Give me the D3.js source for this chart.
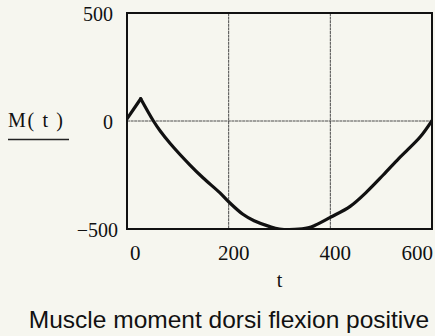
<!DOCTYPE html>
<html>
<head>
<meta charset="utf-8">
<script src="https://cdn.jsdelivr.net/npm/d3@7"></script>
<style>
  html, body { margin: 0; padding: 0; background: #f6f6ef; }
  svg { display: block; }
</style>
</head>
<body>
<svg id="chart" width="435" height="336"></svg>
<script>
// Muscle moment M(t) over the stance phase, dorsi flexion positive
const timeValues = [0, 27, 52, 65, 85, 124, 150, 183, 200, 228, 250, 281, 300, 330, 356, 370, 400, 439, 472, 504, 534, 550, 577, 600];
const momentValues = [10, 103, 0, -45, -104, -204, -264, -333, -374, -432, -462, -489, -500, -502, -495, -483, -446, -395, -327, -250, -175, -138, -73, 2];
const xTicks = [0, 200, 400, 600];
const yTicks = [500, 0, -500];
const yLabel = "M( t )";
const xLabel = "t";
const caption = "Muscle moment dorsi flexion positive";

const svg = d3.select("#chart");
const box = { left: 127, right: 432, top: 13, bottom: 229 };

const x = d3.scaleLinear().domain([0, 600]).range([box.left, box.right]);
const y = d3.scaleLinear().domain([-500, 500]).range([box.bottom, box.top]);

const serif = "'Liberation Serif', 'Times New Roman', serif";

// grid lines at interior ticks
svg.append("g")
  .selectAll("line")
  .data(xTicks.filter(d => d > 0 && d < 600))
  .join("line")
  .attr("x1", d => x(d)).attr("x2", d => x(d))
  .attr("y1", box.top).attr("y2", box.bottom)
  .attr("stroke", "#4a4a4a").attr("stroke-width", 1)
  .attr("stroke-dasharray", "3,0.6");

svg.append("g")
  .selectAll("line")
  .data(yTicks.filter(d => d > -500 && d < 500))
  .join("line")
  .attr("x1", box.left).attr("x2", box.right)
  .attr("y1", d => y(d)).attr("y2", d => y(d))
  .attr("stroke", "#4a4a4a").attr("stroke-width", 1)
  .attr("stroke-dasharray", "3,0.6");

// curve, clipped to the plot box
svg.append("clipPath").attr("id", "plotClip")
  .append("rect")
  .attr("x", box.left).attr("y", box.top)
  .attr("width", box.right - box.left).attr("height", box.bottom - box.top);

const points = timeValues.map((t, i) => [t, momentValues[i]]);
const peakIndex = d3.maxIndex(momentValues);

// sharp rise to the early peak, then a smooth descent and recovery
const riseLine = d3.line().x(d => x(d[0])).y(d => y(d[1])).curve(d3.curveLinear);
const restLine = d3.line().x(d => x(d[0])).y(d => y(d[1])).curve(d3.curveCatmullRom.alpha(0.5));

const curveGroup = svg.append("g").attr("clip-path", "url(#plotClip)");
[riseLine(points.slice(0, peakIndex + 1)), restLine(points.slice(peakIndex))].forEach(dStr => {
  curveGroup.append("path")
    .attr("fill", "none")
    .attr("stroke", "#111")
    .attr("stroke-width", 3.2)
    .attr("stroke-linejoin", "round")
    .attr("stroke-linecap", "round")
    .attr("d", dStr);
});

// plot frame
svg.append("rect")
  .attr("x", box.left).attr("y", box.top)
  .attr("width", box.right - box.left).attr("height", box.bottom - box.top)
  .attr("fill", "none")
  .attr("stroke", "#111")
  .attr("stroke-width", 2);

// y tick labels
svg.append("g")
  .selectAll("text")
  .data(yTicks)
  .join("text")
  .attr("x", d => d < 0 ? box.left - 9 : box.left - 14)
  .attr("y", d => y(d) + 8)
  .attr("text-anchor", "end")
  .attr("font-family", serif)
  .attr("font-size", 20)
  .attr("fill", "#111")
  .text(d => d < 0 ? "\u2212" + Math.abs(d) : d);

// x tick labels
svg.append("g")
  .selectAll("text")
  .data(xTicks)
  .join("text")
  .attr("x", (d, i) => i === 0 ? x(d) + 3 : i === xTicks.length - 1 ? x(d) + 1 : x(d) + 5)
  .attr("y", box.bottom + 31)
  .attr("text-anchor", (d, i) => i === 0 ? "start" : i === xTicks.length - 1 ? "end" : "middle")
  .attr("font-family", serif)
  .attr("font-size", 21)
  .attr("fill", "#111")
  .text(d => d);

// y axis label with underline
svg.append("text")
  .attr("x", 8).attr("y", 127)
  .attr("font-family", serif)
  .attr("font-size", 20)
  .attr("fill", "#111")
  .attr("textLength", 55)
  .attr("lengthAdjust", "spacing")
  .text(yLabel);

svg.append("line")
  .attr("x1", 8).attr("x2", 69)
  .attr("y1", 139.5).attr("y2", 139.5)
  .attr("stroke", "#222").attr("stroke-width", 1.5);

// x axis label
svg.append("text")
  .attr("x", (box.left + box.right) / 2)
  .attr("y", 287)
  .attr("text-anchor", "middle")
  .attr("font-family", serif)
  .attr("font-size", 20)
  .attr("fill", "#111")
  .text(xLabel);

// caption
svg.append("text")
  .attr("x", 229)
  .attr("y", 328)
  .attr("text-anchor", "middle")
  .attr("font-family", "'Liberation Sans', Arial, Helvetica, sans-serif")
  .attr("font-size", 24.5)
  .attr("fill", "#111")
  .text(caption);
</script>
</body>
</html>
